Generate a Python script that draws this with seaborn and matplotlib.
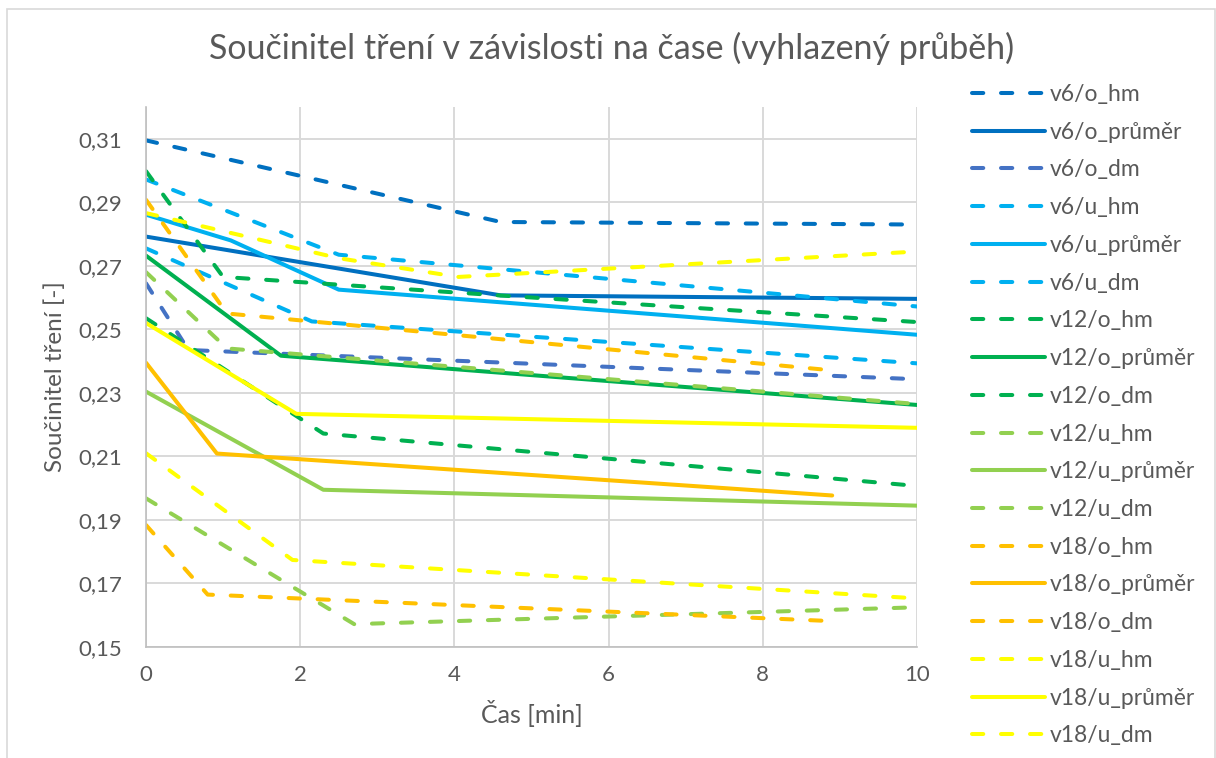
import matplotlib
matplotlib.use("Agg")
import matplotlib.pyplot as plt
import matplotlib.patches as mpatches
import seaborn as sns
import pandas as pd

# ---- data ----
series_names = ["v6/o_hm", "v6/o_průměr", "v6/o_dm",
                "v6/u_hm", "v6/u_průměr", "v6/u_dm",
                "v12/o_hm", "v12/o_průměr", "v12/o_dm",
                "v12/u_hm", "v12/u_průměr", "v12/u_dm",
                "v18/o_hm", "v18/o_průměr", "v18/o_dm",
                "v18/u_hm", "v18/u_průměr", "v18/u_dm"]

t_v6_o_hm = [0, 4.6, 10]
f_v6_o_hm = [0.3095, 0.2838, 0.2830]
t_v6_o_pr = [0, 4.6, 10]
f_v6_o_pr = [0.2792, 0.2607, 0.2596]
t_v6_o_dm = [0, 0.55, 10]
f_v6_o_dm = [0.2645, 0.2435, 0.2343]

t_v6_u_hm = [0, 2.5, 10]
f_v6_u_hm = [0.2972, 0.2735, 0.2572]
t_v6_u_pr = [0, 1.1, 2.5, 10]
f_v6_u_pr = [0.2861, 0.2780, 0.2625, 0.2483]
t_v6_u_dm = [0, 2.15, 10]
f_v6_u_dm = [0.2755, 0.2525, 0.2393]

t_v12_o_hm = [0, 1.0, 4.7, 10]
f_v12_o_hm = [0.2998, 0.2665, 0.2605, 0.2523]
t_v12_o_pr = [0, 1.75, 10]
f_v12_o_pr = [0.2732, 0.2417, 0.2262]
t_v12_o_dm = [0, 2.3, 10]
f_v12_o_dm = [0.2535, 0.2172, 0.2007]

t_v12_u_hm = [0, 1.05, 10]
f_v12_u_hm = [0.2680, 0.2440, 0.2265]
t_v12_u_pr = [0, 2.3, 10]
f_v12_u_pr = [0.2304, 0.1995, 0.1945]
t_v12_u_dm = [0, 2.7, 10]
f_v12_u_dm = [0.1968, 0.1572, 0.1625]

t_v18_o_hm = [0, 1.05, 8.85]
f_v18_o_hm = [0.2908, 0.2550, 0.2372]
t_v18_o_pr = [0, 0.92, 8.9]
f_v18_o_pr = [0.2395, 0.2109, 0.1977]
t_v18_o_dm = [0, 0.8, 8.85]
f_v18_o_dm = [0.1884, 0.1665, 0.1582]

t_v18_u_hm = [0, 2.5, 4.05, 10]
f_v18_u_hm = [0.2866, 0.2724, 0.2665, 0.2745]
t_v18_u_pr = [0, 1.95, 10]
f_v18_u_pr = [0.2520, 0.2234, 0.2190]
t_v18_u_dm = [0, 1.9, 10]
f_v18_u_dm = [0.2110, 0.1774, 0.1653]

times = [t_v6_o_hm, t_v6_o_pr, t_v6_o_dm, t_v6_u_hm, t_v6_u_pr, t_v6_u_dm,
         t_v12_o_hm, t_v12_o_pr, t_v12_o_dm, t_v12_u_hm, t_v12_u_pr, t_v12_u_dm,
         t_v18_o_hm, t_v18_o_pr, t_v18_o_dm, t_v18_u_hm, t_v18_u_pr, t_v18_u_dm]
values = [f_v6_o_hm, f_v6_o_pr, f_v6_o_dm, f_v6_u_hm, f_v6_u_pr, f_v6_u_dm,
          f_v12_o_hm, f_v12_o_pr, f_v12_o_dm, f_v12_u_hm, f_v12_u_pr, f_v12_u_dm,
          f_v18_o_hm, f_v18_o_pr, f_v18_o_dm, f_v18_u_hm, f_v18_u_pr, f_v18_u_dm]

y_ticks = [0.15, 0.17, 0.19, 0.21, 0.23, 0.25, 0.27, 0.29, 0.31]
x_ticks = [0, 2, 4, 6, 8, 10]

# ---- styles ----
colors = ["#0070C0", "#0070C0", "#4472C4",
          "#00B0F0", "#00B0F0", "#00B0F0",
          "#00B050", "#00B050", "#00B050",
          "#92D050", "#92D050", "#92D050",
          "#FFC000", "#FFC000", "#FFC000",
          "#FFFF00", "#FFFF00", "#FFFF00"]
DASH = (2.8, 4.4)
dash_list = [DASH, "", DASH] * 6

rows = []
for name, ts, vs in zip(series_names, times, values):
    for t, v in zip(ts, vs):
        rows.append({"t": t, "v": v, "series": name})
df = pd.DataFrame(rows)

sns.set_theme(style="white")
plt.rcParams["font.family"] = ["Lato", "DejaVu Sans"]
TXT = "#595959"

fig = plt.figure(figsize=(12.16, 7.58), dpi=100)
ax = fig.add_axes([146 / 1216, 1 - 647 / 758, (917 - 146) / 1216, (647 - 107) / 758])

sns.lineplot(data=df, x="t", y="v", hue="series", style="series",
             hue_order=series_names, style_order=series_names,
             palette=dict(zip(series_names, colors)),
             dashes=dict(zip(series_names, dash_list)),
             estimator=None, sort=False, linewidth=2.9, ax=ax, legend=True)

for ln in ax.lines:
    ln.set_dash_capstyle("round")
    ln.set_solid_capstyle("round")
    ln.set_solid_joinstyle("round")
    ln.set_dash_joinstyle("round")

handles, labels = ax.get_legend_handles_labels()
ax.get_legend().remove()
for h in handles:
    h.set_dash_capstyle("round")
    h.set_solid_capstyle("round")
    h.set_linewidth(2.9)

ax.set_xlim(0, 10)
ax.set_ylim(0.15, 0.32)
ax.set_xticks(x_ticks)
ax.set_yticks(y_ticks)
ax.set_xticklabels([str(x) for x in x_ticks])
ax.set_yticklabels([f"{y:.2f}".replace(".", ",") for y in y_ticks])
ax.tick_params(axis="both", length=0, labelsize=16, labelcolor=TXT)
ax.tick_params(axis="y", pad=17)
ax.tick_params(axis="x", pad=13)
ax.grid(True, color="#D9D9D9", linewidth=1.4)
ax.set_axisbelow(True)
for s in ["top", "right"]:
    ax.spines[s].set_visible(False)
for s in ["left", "bottom"]:
    ax.spines[s].set_color("#BFBFBF")
    ax.spines[s].set_linewidth(1.2)

ax.set_xlabel("Čas [min]", fontsize=18, color=TXT, labelpad=11)
ax.set_ylabel("Součinitel tření [-]", fontsize=17.5, color=TXT, labelpad=9)

fig.text(612 / 1216, 1 - 48 / 758, "Součinitel tření v závislosti na čase (vyhlazený průběh)",
         ha="center", va="center", fontsize=24.5, color=TXT)

leg = fig.legend(handles, labels, loc="upper left",
                 bbox_to_anchor=(972 / 1216, 1 - 84 / 758),
                 frameon=False, fontsize=16.5, handlelength=3.19,
                 handletextpad=0.22, labelspacing=0.73,
                 borderpad=0, borderaxespad=0)
for t in leg.get_texts():
    t.set_color(TXT)

fig.patches.append(mpatches.Rectangle((7 / 1216, -0.01), (1215 - 7) / 1216, 1 - 9 / 758 + 0.01,
                                      transform=fig.transFigure, fill=False,
                                      edgecolor="#D9D9D9", linewidth=1.2))

fig.savefig("out.png", dpi=100, facecolor="white")
